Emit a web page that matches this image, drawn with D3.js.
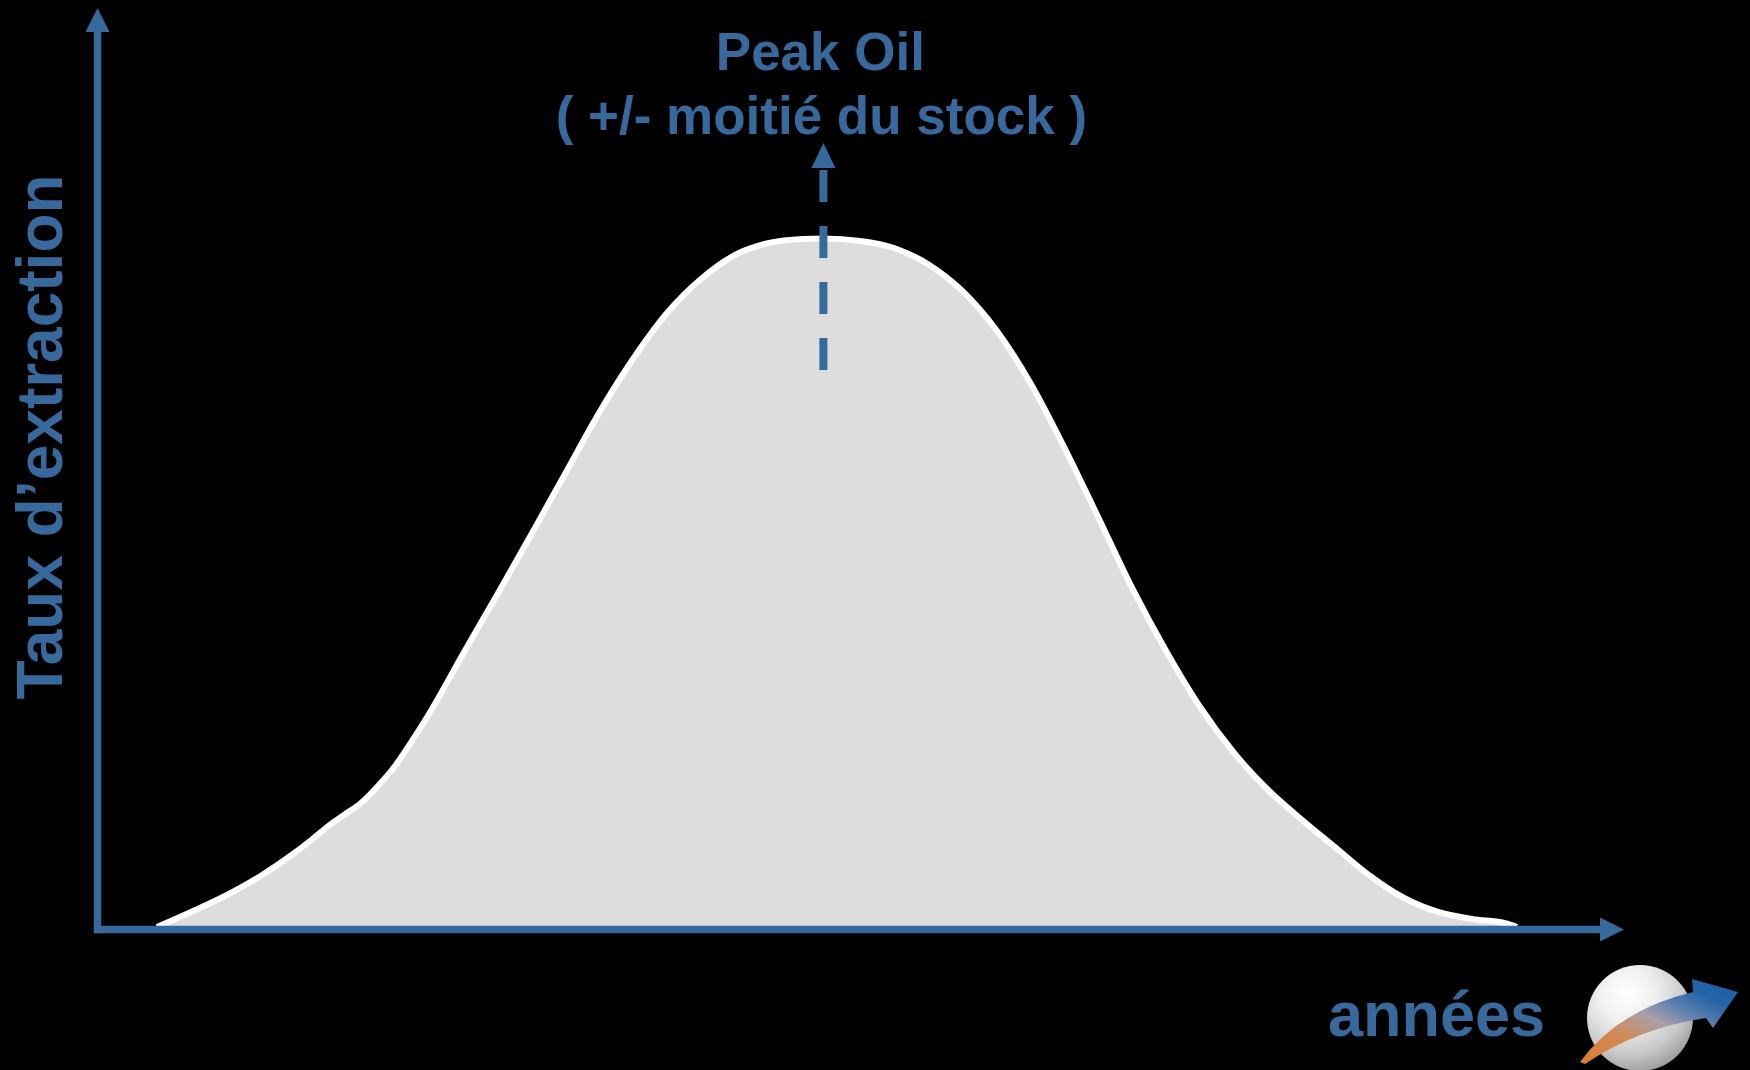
<!DOCTYPE html>
<html>
<head>
<meta charset="utf-8">
<script src="https://cdn.jsdelivr.net/npm/d3@7/dist/d3.min.js"></script>
<style>
  html, body { margin: 0; padding: 0; background: #000; }
  svg { display: block; }
  text { font-family: "Liberation Sans", Arial, sans-serif; font-weight: bold; }
</style>
</head>
<body>
<svg id="chart" width="1750" height="1070"></svg>
<script>
// Hubbert-style extraction curve: time (arbitrary units 0–100) vs extraction rate (% of peak)
const years = [0, 2.5, 5.0, 7.5, 10.0, 11.25, 12.5, 13.75, 15.0, 16.25, 17.5, 18.75,
  20.0, 22.5, 25.0, 27.5, 30.0, 32.5, 35.0, 37.5, 40.0, 42.5, 45.0, 47.5, 49.0,
  51.7, 54.2, 56.7, 59.2, 61.7, 64.2, 66.7, 69.2, 71.7, 74.2, 76.7, 79.2, 81.7,
  84.2, 86.7, 89.2, 91.7, 94.2, 96.7, 99.2, 100];
const rates = [0, 2.18, 4.50, 7.26, 10.60, 12.49, 14.52, 16.27, 18.01, 20.48, 23.38, 27.02,
  30.94, 39.65, 48.22, 56.94, 65.80, 74.66, 82.50, 89.18, 94.12, 97.60, 99.35, 99.93, 100,
  99.64, 98.62, 96.27, 92.42, 86.74, 79.09, 69.71, 59.54, 49.24, 40.09, 31.95, 25.27, 19.90,
  15.54, 11.47, 7.41, 4.21, 2.18, 1.16, 0.51, 0];
const peakYear = 49;

const titleLines = ["Peak Oil", "( +/- moitié du stock )"];
const yLabel = "Taux d’extraction";
const xLabel = "années";

const blue = "#37699c";
const svg = d3.select("#chart");
svg.append("rect").attr("width", 1750).attr("height", 1070).attr("fill", "#000");

const x = d3.scaleLinear().domain([0, 100]).range([157, 1517]);
const y = d3.scaleLinear().domain([0, 100]).range([927, 238.5]);

// Axis frame
const frame = { left: 97.5, bottom: 929.5, right: 1600, top: 32 };
const axisW = 7.5;

const data = years.map((t, i) => ({ t, v: rates[i] }));
const curve = d3.curveMonotoneX;

// Filled area under the curve
svg.append("path")
  .datum(data)
  .attr("fill", "#dddddd")
  .attr("d", d3.area().x(d => x(d.t)).y0(y(0)).y1(d => y(d.v)).curve(curve));

// White outline
svg.append("path")
  .datum(data)
  .attr("fill", "none")
  .attr("stroke", "#ffffff")
  .attr("stroke-width", 6)
  .attr("stroke-linejoin", "round")
  .attr("d", d3.line().x(d => x(d.t)).y(d => y(d.v)).curve(curve));

// Axes (no ticks, just the domain lines)
const xAxisScale = d3.scaleLinear().range([frame.left - 3.5, frame.right]);
const yAxisScale = d3.scaleLinear().range([frame.bottom + 3.7, frame.top]);
const gx = svg.append("g").attr("transform", `translate(0,${frame.bottom})`)
  .call(d3.axisBottom(xAxisScale).tickValues([]).tickSizeOuter(0).offset(0));
const gy = svg.append("g").attr("transform", `translate(${frame.left},0)`)
  .call(d3.axisLeft(yAxisScale).tickValues([]).tickSizeOuter(0).offset(0));
[gx, gy].forEach(g => g.select(".domain").attr("stroke", blue).attr("stroke-width", axisW));

// Arrowheads
svg.append("path").attr("fill", blue)
  .attr("d", `M${frame.right},${frame.bottom - 12} L${frame.right + 24},${frame.bottom} L${frame.right},${frame.bottom + 12} Z`);
svg.append("path").attr("fill", blue)
  .attr("d", `M${frame.left - 12},${frame.top} L${frame.left},${frame.top - 24} L${frame.left + 12},${frame.top} Z`);

// Dashed marker at the peak
const px = x(peakYear);
svg.append("line")
  .attr("x1", px).attr("x2", px).attr("y1", 170).attr("y2", 370)
  .attr("stroke", blue).attr("stroke-width", 8).attr("stroke-dasharray", "32,24");
svg.append("path").attr("fill", blue)
  .attr("d", `M${px - 12},168 L${px},143 L${px + 12},168 Z`);

// Peak annotation
svg.append("text")
  .attr("x", px - 3).attr("y", 70).attr("text-anchor", "middle")
  .attr("font-size", 53).attr("fill", blue).text(titleLines[0]);
svg.append("text")
  .attr("x", px - 2).attr("y", 134).attr("text-anchor", "middle")
  .attr("font-size", 53).attr("fill", blue).text(titleLines[1]);

// Axis labels
svg.append("text")
  .attr("transform", "translate(62,437) rotate(-90)")
  .attr("text-anchor", "middle")
  .attr("font-size", 64).attr("fill", blue).text(yLabel);
svg.append("text")
  .attr("x", 1545).attr("y", 1036).attr("text-anchor", "end")
  .attr("font-size", 63).attr("fill", blue).text(xLabel);

// Logo: shaded sphere with a swoosh arrow
const defs = svg.append("defs");
const rg = defs.append("radialGradient").attr("id", "sphere")
  .attr("cx", "0.4").attr("cy", "0.32").attr("r", "0.78").attr("fx", "0.36").attr("fy", "0.26");
[[0, "#ffffff"], [0.35, "#efefef"], [0.7, "#c8c8c8"], [0.9, "#a0a0a0"], [1, "#858585"]]
  .forEach(([o, c]) => rg.append("stop").attr("offset", o).attr("stop-color", c));
const lg = defs.append("linearGradient").attr("id", "swoosh")
  .attr("x1", "0").attr("y1", "1").attr("x2", "1").attr("y2", "0");
[[0, "#e07a2e"], [0.3, "#d08a58"], [0.5, "#a8a0a8"], [0.65, "#5c7fb0"], [0.8, "#2463a6"], [1, "#1b5fa6"]]
  .forEach(([o, c]) => lg.append("stop").attr("offset", o).attr("stop-color", c));

const logo = svg.append("g").attr("transform", "translate(1640,1018)");
logo.append("circle").attr("r", 53).attr("fill", "url(#sphere)");
logo.append("path").attr("fill", "url(#swoosh)")
  .attr("d", "M-60,44 Q-22,-8 53,-26 L52,-39 L98,-26 L73,10 L66,0 Q-2,10 -55,46 Z");
</script>
</body>
</html>
